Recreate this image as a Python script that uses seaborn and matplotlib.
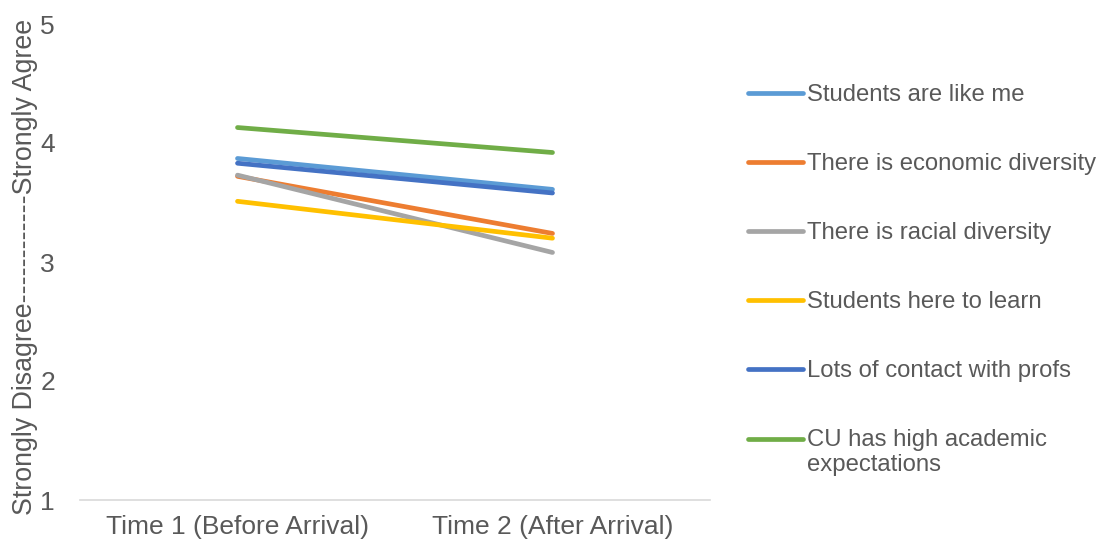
import matplotlib
matplotlib.use('Agg')
import matplotlib.pyplot as plt
import pandas as pd
import seaborn as sns

# dados
tempos = ['Time 1 (Before Arrival)', 'Time 2 (After Arrival)']
itens = ['Students are like me', 'There is economic diversity', 'There is racial diversity',
         'Students here to learn', 'Lots of contact with profs',
         'CU has high academic\nexpectations']
tempo1 = [3.87, 3.72, 3.73, 3.51, 3.83, 4.13]
tempo2 = [3.61, 3.24, 3.08, 3.20, 3.58, 3.92]
cores = ['#5B9BD5', '#ED7D31', '#A5A5A5', '#FFC000', '#4472C4', '#70AD47']

linhas = []
for item, a, b in zip(itens, tempo1, tempo2):
    linhas.append({'tempo': tempos[0], 'item': item, 'nota': a})
    linhas.append({'tempo': tempos[1], 'item': item, 'nota': b})
df = pd.DataFrame(linhas)

sns.set_style('white')
plt.rcParams['font.family'] = ['Liberation Sans', 'DejaVu Sans']

fig = plt.figure(figsize=(11, 5.46), dpi=100)
ax = fig.add_axes([80 / 1100, 46 / 546, 630 / 1100, 476 / 546])

sns.lineplot(data=df, x='tempo', y='nota', hue='item', hue_order=itens,
             palette=cores, linewidth=3.4, sort=False, ax=ax,
             solid_capstyle='round')

ax.set_xlim(-0.5, 1.5)
ax.set_ylim(1, 5)
ax.set_yticks([1, 2, 3, 4, 5])
ax.set_xlabel('')
ax.set_ylabel('Strongly Disagree------------Strongly Agree', fontsize=19.3, color='#595959')
ax.yaxis.set_label_coords(-0.067, 0.49)
ax.tick_params(axis='both', length=0, labelsize=19, labelcolor='#595959')
ax.tick_params(axis='y', pad=18)
ax.tick_params(axis='x', pad=11)

for lado in ['top', 'right', 'left']:
    ax.spines[lado].set_visible(False)
ax.spines['bottom'].set_color('#D9D9D9')
ax.spines['bottom'].set_linewidth(1.2)

leg = ax.legend(loc='upper left', bbox_to_anchor=(748 / 1100, 1 - 84 / 546),
                bbox_transform=fig.transFigure, frameon=False, fontsize=17.2,
                borderpad=0, borderaxespad=0, handlelength=2.3,
                handletextpad=0.15, labelspacing=1.97)
for t in leg.get_texts():
    t.set_color('#595959')
    t.set_linespacing(1.15)

# alinhar a linha do ultimo item com a primeira linha do texto
ultima = leg.legend_handles[-1]
ultima.set_ydata([y + 10 for y in ultima.get_ydata()])

fig.savefig('out.png', dpi=100)
